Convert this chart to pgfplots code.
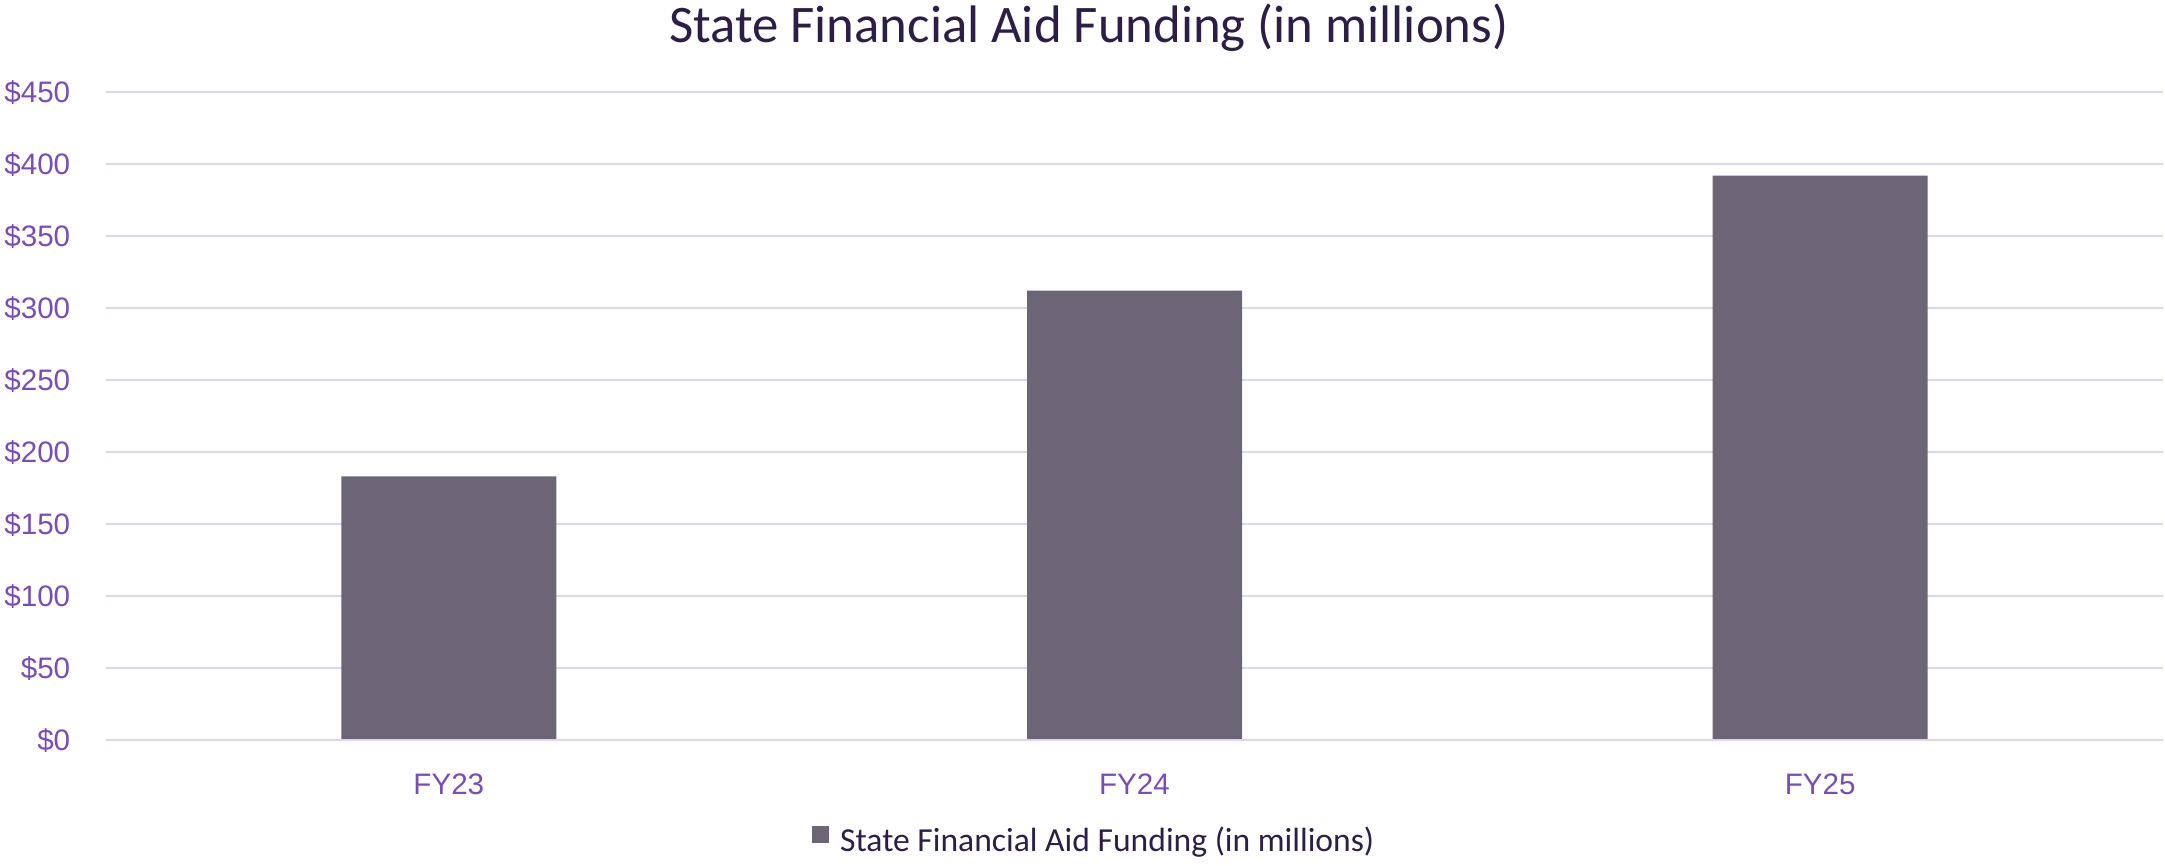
\documentclass[border=0pt]{standalone}
\usepackage{fontspec}
\setmainfont{Carlito}
\newfontfamily\tickfont{Liberation Sans}
\usepackage{pgfplots}
\pgfplotsset{compat=1.18}
\definecolor{barcol}{HTML}{6C6575}
\definecolor{gridcol}{HTML}{DDD4F0}
\definecolor{tickcol}{HTML}{7A4DB4}
\definecolor{titlecol}{HTML}{2D1E48}

\begin{document}
\begin{tikzpicture}
% page frame, 4 px per pt
\path (-26.5pt,-31.25pt) rectangle (514.75pt,185pt);
\begin{axis}[
    at={(0,0)}, anchor=south west,
    scale only axis, width=514.25pt, height=162pt,
    xmin=-0.5, xmax=2.5, ymin=0, ymax=450,
    axis line style={draw=none},
    major tick length=0pt,
    xtick={0,1,2}, xticklabels={FY23,FY24,FY25},
    ytick={0,50,...,450},
    yticklabels={\$0,\$50,\$100,\$150,\$200,\$250,\$300,\$350,\$400,\$450},
    ymajorgrids, grid style={gridcol, line width=0.5pt},
    tick label style={font=\tickfont\fontsize{7.4pt}{8.5pt}\selectfont, text=tickcol,
        inner sep=0pt, text height=5.3pt, text depth=0pt},
    yticklabel style={anchor=east, xshift=-8.75pt},
    xticklabel style={anchor=north, yshift=-8.25pt},
    ybar, bar width=53.75pt,
    legend style={at={(0.48,-0.157)}, anchor=center, draw=none, fill=none,
        font=\fontsize{8.4pt}{10pt}\selectfont, text=titlecol,
        column sep=2.75pt, nodes={inner sep=0pt}},
    legend image code/.code={\fill[barcol] (0pt,-0.3pt) rectangle (4.25pt,3.95pt);},
]
\addplot[fill=barcol, draw=none] coordinates {(0,183) (1,312) (2,392)};
\legend{State Financial Aid Funding (in millions)}
\draw[gridcol, line width=0.5pt] (axis cs:-0.5,0) -- (axis cs:2.5,0);
\end{axis}
\node[anchor=base, font=\fontsize{13.2pt}{15pt}\selectfont, text=titlecol, inner sep=0pt]
    at (245.75pt,174.25pt) {State Financial Aid Funding (in millions)};
\end{tikzpicture}
\end{document}
